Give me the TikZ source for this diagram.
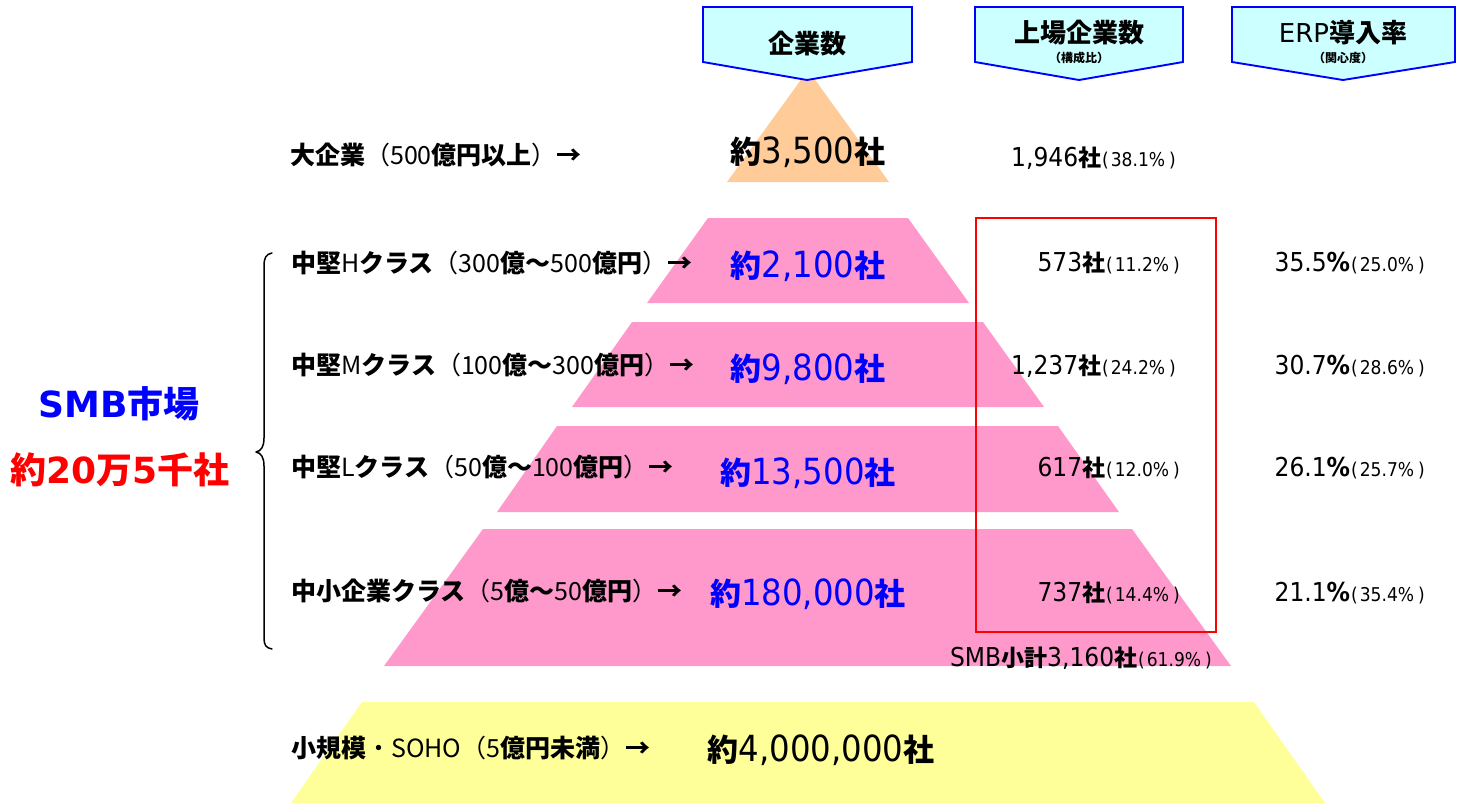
\documentclass[tikz,border=0pt]{standalone}
\usepackage{fontspec}
\newfontfamily\jp{Noto Sans CJK JP}
\newfontfamily\dv{DejaVu Sans}
\newfontfamily\dc{DejaVu Sans Condensed}
\newcommand\K[1]{{\bfseries #1}}
\newcommand\D[1]{{\dc\fontsize{26}{30}\selectfont #1}}
\newcommand\Dn[1]{{\dc\fontsize{36}{40}\selectfont #1}}
\newcommand\pc[1]{{\dc\fontsize{19}{21}\selectfont\kern1pt(\kern2pt#1\kern4pt)}}
\definecolor{orangefill}{HTML}{FFCC99}
\definecolor{pinkfill}{HTML}{FF99CC}
\definecolor{yellowfill}{HTML}{FFFF99}
\definecolor{hdrfill}{HTML}{CCFFFF}
\begin{document}
\begin{tikzpicture}[x=1pt,y=-1pt,
  hdr/.style={draw=blue, line width=1.9pt, fill=hdrfill, line join=miter},
  lab/.style={anchor=west, inner sep=0pt, font=\jp\fontsize{25}{28}\selectfont},
  num/.style={inner sep=0pt, font=\jp\fontsize{31}{36}\selectfont},
  rcol/.style={anchor=east, inner sep=0pt, font=\jp\fontsize{23}{28}\selectfont},
  hdrtxt/.style={inner sep=0pt, font=\jp\bfseries\fontsize{26}{30}\selectfont},
  hdrsub/.style={inner sep=0pt, font=\jp\bfseries\fontsize{12}{14}\selectfont},
  bracestyle/.style={draw=black, line width=1.5pt, line cap=round, line join=round}]
\useasboundingbox (0,0) rectangle (1460,803);
\fill[white] (0,0) rectangle (1460,803);

% pyramid bands
\fill[orangefill] (808,70) -- (889,182) -- (727,182) -- cycle;
\fill[pinkfill] (708,218) -- (908,218) -- (969,303) -- (647,303) -- cycle;
\fill[pinkfill] (632,322) -- (983,322) -- (1044,407) -- (572,407) -- cycle;
\fill[pinkfill] (557,426) -- (1058,426) -- (1119,512) -- (497,512) -- cycle;
\fill[pinkfill] (483,529) -- (1132,529) -- (1231,666) -- (384,666) -- cycle;
\fill[yellowfill] (362,702) -- (1254,702) -- (1325,803) -- (291,803) -- cycle;

% headers
\draw[hdr] (703,7) -- (912,7) -- (912,62) -- (807,80) -- (703,62) -- cycle;
\draw[hdr] (975,7) -- (1183,7) -- (1183,62) -- (1079,80) -- (975,62) -- cycle;
\draw[hdr] (1232,7) -- (1455,7) -- (1455,62) -- (1343,80) -- (1232,62) -- cycle;
\node[hdrtxt] (h1) at (807,44) {企業数};
\node[hdrtxt] (h2) at (1079,33) {上場企業数};
\node[hdrsub] (h2s) at (1079,58) {（構成比）};
\node[hdrtxt] (h3) at (1343,33) {{\dv\mdseries ERP}導入率};
\node[hdrsub] (h3s) at (1343,58) {（関心度）};

% red frame
\draw[red, line width=1.5pt] (976,218) rectangle (1216,632);

% brace
\draw[bracestyle] (272,253) .. controls (266,254) and (264,258) .. (264,266) -- (264,438)
  .. controls (264,447) and (261,451) .. (256,452)
  .. controls (261,453) and (264,457) .. (264,466) -- (264,638)
  .. controls (264,645) and (266,648) .. (272,649);

% left SMB label
\node[inner sep=0pt, text=blue, font=\jp\bfseries\fontsize{36}{40}\selectfont] (smb) at (119,404) {{\dv\bfseries SMB}市場};
\node[inner sep=0pt, text=red, font=\jp\bfseries\fontsize{36}{40}\selectfont] (tot) at (120,470) {約{\dv\bfseries 20}万{\dv\bfseries 5}千社};

% row labels
\node[lab] (l0) at (290,155) {\K{大企業}（500\K{億円以上}）\K{→}};
\node[lab] (l1) at (291,263) {\K{中堅}H\K{クラス}（300\K{億～}500\K{億円}）\K{→}};
\node[lab] (l2) at (291,365) {\K{中堅}M\K{クラス}（100\K{億～}300\K{億円}）\K{→}};
\node[lab] (l3) at (291,467) {\K{中堅}L\K{クラス}（50\K{億～}100\K{億円}）\K{→}};
\node[lab] (l4) at (291,591) {\K{中小企業クラス}（5\K{億～}50\K{億円}）\K{→}};
\node[lab] (l5) at (291,748) {\K{小規模}・SOHO（5\K{億円未満}）\K{→}};

% company counts
\node[num] (n0) at (808,152) {\K{約}\Dn{3,500}\K{社}};
\node[num, text=blue] (n1) at (808,266) {\K{約}\Dn{2,100}\K{社}};
\node[num, text=blue] (n2) at (808,369) {\K{約}\Dn{9,800}\K{社}};
\node[num, text=blue] (n3) at (808,473) {\K{約}\Dn{13,500}\K{社}};
\node[num, text=blue] (n4) at (808,594) {\K{約}\Dn{180,000}\K{社}};
\node[num] (n5) at (821,750) {\K{約}\Dn{4,000,000}\K{社}};

% listed companies
\node[rcol] (r0) at (1176,158) {\D{1,946}\K{社}\pc{38.1\%}};
\node[rcol] (r1) at (1180,263) {\D{573}\K{社}\pc{11.2\%}};
\node[rcol] (r2) at (1176,366) {\D{1,237}\K{社}\pc{24.2\%}};
\node[rcol] (r3) at (1180,468) {\D{617}\K{社}\pc{12.0\%}};
\node[rcol] (r4) at (1180,593) {\D{737}\K{社}\pc{14.4\%}};
\node[rcol] (rs) at (1212,658) {\D{SMB}\K{小計}\D{3,160}\K{社}\pc{61.9\%}};

% ERP rate
\node[rcol] (e1) at (1425,263) {\D{35.5\bfseries\%}\pc{25.0\%}};
\node[rcol] (e2) at (1425,366) {\D{30.7\bfseries\%}\pc{28.6\%}};
\node[rcol] (e3) at (1425,468) {\D{26.1\bfseries\%}\pc{25.7\%}};
\node[rcol] (e4) at (1425,593) {\D{21.1\bfseries\%}\pc{35.4\%}};
\end{tikzpicture}
\end{document}
